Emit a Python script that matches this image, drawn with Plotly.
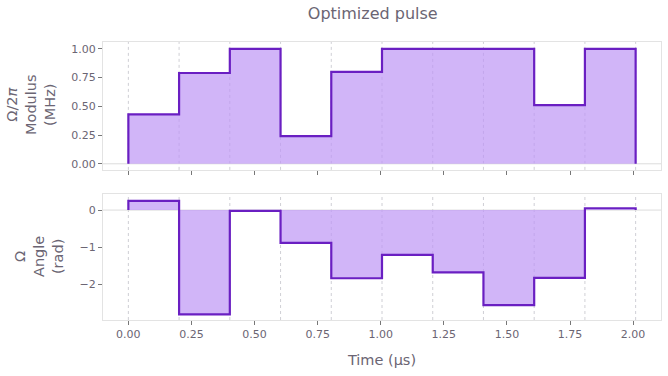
import plotly.graph_objects as go
from plotly.subplots import make_subplots

# ---- data ----
dt = 0.201  # segment duration (µs)
n_segments = 10
modulus = [0.43, 0.79, 1.00, 0.24, 0.80, 1.00, 1.00, 1.00, 0.51, 1.00]
angle = [0.25, -2.80, -0.02, -0.88, -1.83, -1.20, -1.67, -2.55, -1.82, 0.05]
x_ticks = [0.00, 0.25, 0.50, 0.75, 1.00, 1.25, 1.50, 1.75, 2.00]
mod_ticks = [0.00, 0.25, 0.50, 0.75, 1.00]
ang_ticks = [0, -1, -2]

title_text = "Optimized pulse"
mod_label = "Ω/2<i>π</i><br>Modulus<br>(MHz)"
ang_label = "Ω<br>Angle<br>(rad)"
x_label = "Time (µs)"

LINE = "#6a1fc2"
FILL = "rgba(190,150,245,0.7)"
TEXT = "#6b6573"
FRAME = "#e3e3e3"
FONT = "DejaVu Sans"

times = [i * dt for i in range(n_segments + 1)]


def step_xy(vals):
    xs = [times[0]] + times[:-1] + [times[-1], times[-1]]
    ys = [0] + vals + [vals[-1], 0]
    return xs, ys


fig = make_subplots(rows=2, cols=1, shared_xaxes=True, vertical_spacing=0.087)

for row, vals in ((1, modulus), (2, angle)):
    xs, ys = step_xy(vals)
    fig.add_trace(go.Scatter(x=xs, y=ys, mode="lines", line=dict(color=LINE, width=2.2, shape="hv"),
                             fill="tozeroy", fillcolor=FILL, showlegend=False, hoverinfo="skip"),
                  row=row, col=1)

# segment-boundary dashed gridlines and zero lines
for row in (1, 2):
    yref = "y domain" if row == 1 else "y2 domain"
    xref = "x" if row == 1 else "x2"
    for t in times:
        fig.add_shape(type="line", xref=xref, yref=yref, x0=t, x1=t, y0=0, y1=1,
                      line=dict(color="rgba(175,175,185,0.6)", width=1, dash="3px,3px"), layer="below")
    fig.add_shape(type="line", xref="x domain" if row == 1 else "x2 domain", yref="y" if row == 1 else "y2",
                  x0=0, x1=1, y0=0, y1=0, line=dict(color="#dcdcdc", width=1), layer="below")

xmin, xmax = -0.1005, 2.1105
axis_common = dict(showline=True, linecolor=FRAME, linewidth=1, mirror=True, showgrid=False,
                   zeroline=False, ticks="outside", ticklen=4, tickcolor="#777",
                   tickfont=dict(size=11, color=TEXT, family=FONT))

fig.update_xaxes(**axis_common, range=[xmin, xmax], tickvals=x_ticks,
                 ticktext=[f"{v:.2f}" for v in x_ticks])
fig.update_xaxes(showticklabels=False, row=1, col=1)
fig.update_xaxes(title=dict(text=x_label, font=dict(size=14.5, color=TEXT, family=FONT), standoff=14),
                 row=2, col=1)
fig.update_yaxes(**axis_common)
fig.update_yaxes(range=[-0.053, 1.06], tickvals=mod_ticks, ticktext=[f"{v:.2f}" for v in mod_ticks],
                 row=1, col=1)
fig.update_yaxes(range=[-2.95, 0.43], tickvals=ang_ticks, ticktext=["0", "−1", "−2"], row=2, col=1)

fig.update_layout(
    width=668, height=376,
    margin=dict(l=103, r=7, t=42, b=56),
    plot_bgcolor="white", paper_bgcolor="white",
    font=dict(family=FONT, color=TEXT),
    title=dict(text=title_text, x=0.558, xanchor="center", y=0.965, yanchor="middle",
               font=dict(size=16, color=TEXT, family=FONT)),
)
fig.update_layout(yaxis_domain=[0.54, 1.0], yaxis2_domain=[0.0, 0.453])

plot_w = 668 - 103 - 7
for text, cx, cy in ((mod_label, 31, 105), (ang_label, 39, 257)):
    fig.add_annotation(text=text, xref="paper", yref="paper",
                       x=(cx - 103) / plot_w, y=1 - (cy - 42) / (376 - 42 - 56),
                       xanchor="center", yanchor="middle", textangle=-90, showarrow=False,
                       font=dict(size=14.5, color=TEXT, family=FONT))

fig.write_html("out.html", config={"displayModeBar": False},
               post_script="document.body.style.margin='0';")
